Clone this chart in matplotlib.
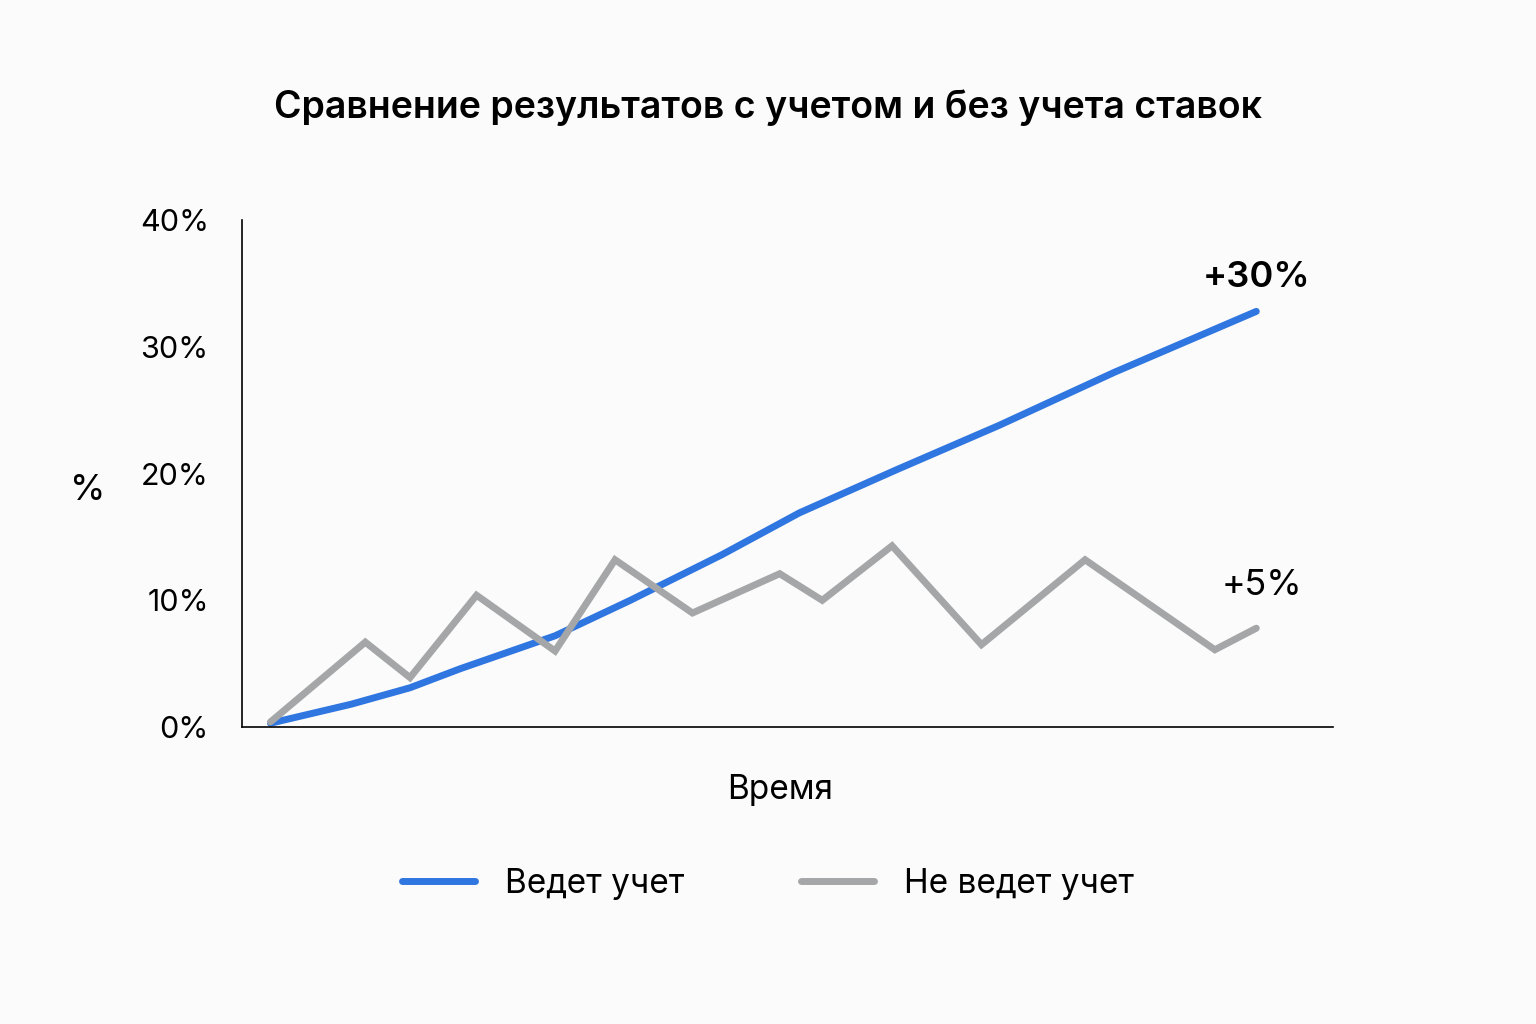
import matplotlib
matplotlib.use("Agg")
import matplotlib.pyplot as plt

t_gray = [2.6, 11.3, 15.4, 21.5, 28.7, 34.2, 41.3, 49.3, 53.2, 59.6, 67.8, 77.3, 89.2, 93.0]
v_gray = [0.4, 6.7, 3.9, 10.4, 6.0, 13.2, 9.0, 12.1, 10.0, 14.3, 6.5, 13.2, 6.1, 7.8]
t_blue = [2.6, 10, 15.4, 20, 28.7, 35.6, 44, 51.1, 60, 69.4, 80, 93.0]
v_blue = [0.3, 1.8, 3.1, 4.6, 7.2, 10.0, 13.6, 16.9, 20.3, 23.8, 28.0, 32.8]
yticks = [0, 10, 20, 30, 40]
ytick_labels = ["0%", "10%", "20%", "30%", "40%"]

plt.rcParams["font.family"] = "Inter"
fig = plt.figure(figsize=(15.36, 10.24), dpi=100, facecolor="#fbfbfb")
ax = fig.add_axes([0.1576, 0.29, 0.710, 0.495])
ax.set_facecolor("#fbfbfb")
ax.plot(t_blue, v_blue, color="#2f76e0", lw=5, solid_capstyle="round", label="Ведет учет", zorder=2)
ax.plot(t_gray, v_gray, color="#a5a6a8", lw=5, solid_capstyle="round", solid_joinstyle="miter", label="Не ведет учет", zorder=3)
ax.set_xlim(0, 100)
ax.set_ylim(0, 40)
ax.set_yticks(yticks)
ax.set_yticklabels(ytick_labels, fontsize=22)
ax.set_xticks([])
ax.tick_params(axis="y", length=0, pad=24)
for s in ["top", "right"]:
    ax.spines[s].set_visible(False)
for s in ["left", "bottom"]:
    ax.spines[s].set_linewidth(1.2)
ax.text(93.0, 35.5, "+30%", fontsize=26, fontweight="semibold", ha="center", va="center")
ax.text(93.5, 11.2, "+5%", fontsize=26, ha="center", va="center")
fig.text(0.5, 0.895, "Сравнение результатов с учетом и без учета ставок", fontsize=27,
         fontweight="semibold", ha="center", va="center")
fig.text(0.057, 0.521, "%", fontsize=26, ha="center", va="center")
fig.text(0.508, 0.229, "Время", fontsize=24, ha="center", va="center")
fig.legend(loc="center", bbox_to_anchor=(0.5, 0.137), ncol=2, frameon=False, fontsize=24,
           handlelength=2.2, columnspacing=3.5, handletextpad=0.9)
fig.savefig("out.png", dpi=100, facecolor=fig.get_facecolor())
